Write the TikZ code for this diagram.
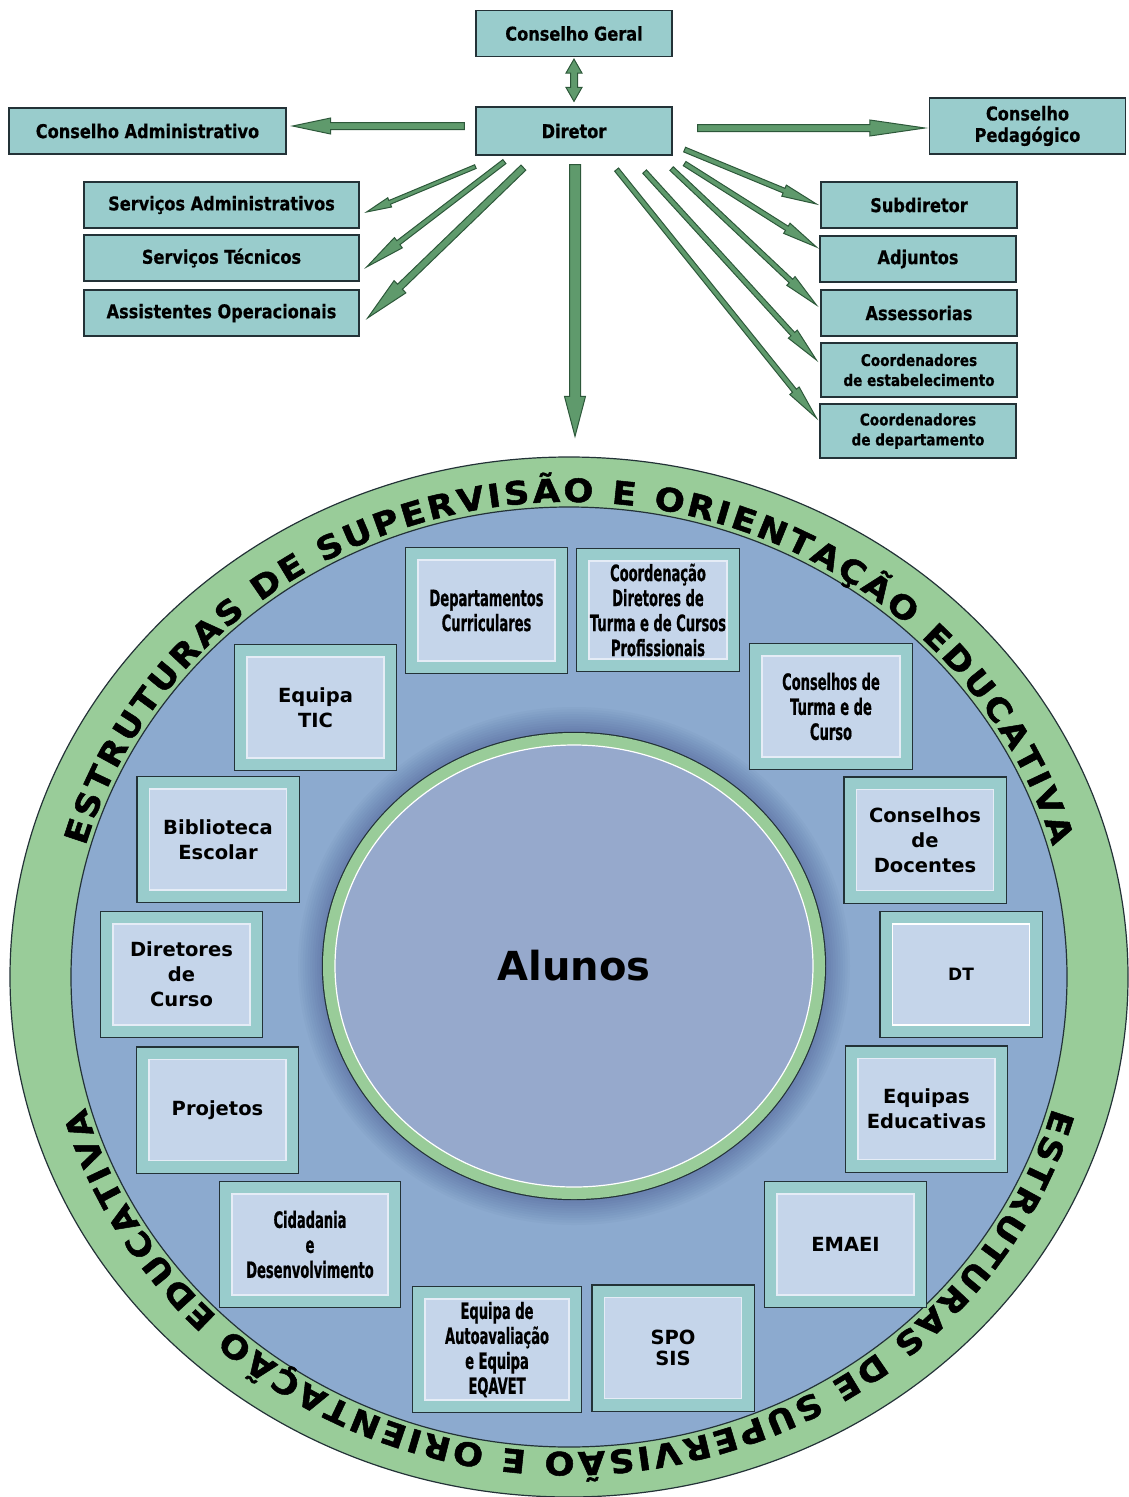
\documentclass[tikz,border=0pt]{standalone}
\usepackage{fontspec}
\setmainfont{DejaVu Sans}
\newfontfamily\narrowfont[FakeStretch=0.58, FakeBold=0.6]{DejaVu Sans}
\newfontfamily\semifont[FakeStretch=0.85, FakeBold=0.6]{DejaVu Sans}
\newfontfamily\widefont[FakeStretch=1.1, FakeBold=1.6]{DejaVu Sans}
\usepackage{xcolor}
\usepackage{tikz}
\usetikzlibrary{shapes.geometric,calc,decorations.text}

\definecolor{ringgreen}{RGB}{153,204,153}
\definecolor{fieldblue}{RGB}{140,170,207}
\definecolor{pupilblue}{RGB}{150,169,204}
\definecolor{boxteal}{RGB}{153,204,204}
\definecolor{boxlight}{RGB}{197,213,234}
\definecolor{flowfill}{RGB}{95,154,108}
\definecolor{flowedge}{RGB}{45,88,58}
\definecolor{edgedark}{RGB}{35,50,55}

\newcommand{\narrowtext}{\narrowfont\bfseries\fontsize{22.5}{25}\selectfont}
\newcommand{\widetext}{\bfseries\fontsize{19.5}{25}\selectfont}
\newcommand{\ringfont}{\widefont\bfseries\fontsize{32}{32}\selectfont}

% block arrow: tail, tip, shaft half width, head half width, head length
\newcommand{\flowarrow}[5]{%
  \coordinate (fa) at (#1);
  \coordinate (fb) at (#2);
  \coordinate (fh) at ($(fb)!#5!(fa)$);
  \filldraw[flow] ($(fa)!#3!90:(fb)$) -- ($(fh)!#3!90:(fb)$) -- ($(fh)!#4!90:(fb)$) -- (fb)
    -- ($(fh)!#4!-90:(fb)$) -- ($(fh)!#3!-90:(fb)$) -- ($(fa)!#3!-90:(fb)$) -- cycle;
}
% same with a head at both ends
\newcommand{\dblflow}[5]{%
  \coordinate (fa) at (#1);
  \coordinate (fb) at (#2);
  \coordinate (fh) at ($(fb)!#5!(fa)$);
  \coordinate (fg) at ($(fa)!#5!(fb)$);
  \filldraw[flow] (fa) -- ($(fg)!#4!-90:(fa)$) -- ($(fg)!#3!-90:(fa)$) -- ($(fh)!#3!90:(fb)$)
    -- ($(fh)!#4!90:(fb)$) -- (fb) -- ($(fh)!#4!-90:(fb)$) -- ($(fh)!#3!-90:(fb)$)
    -- ($(fg)!#3!90:(fa)$) -- ($(fg)!#4!90:(fa)$) -- cycle;
}

\tikzset{
  topbox/.style={draw=edgedark, line width=1.2pt, fill=boxteal, minimum width=196,
    minimum height=46, inner sep=0pt, align=center,
    font=\semifont\bfseries\fontsize{19}{21.5}\selectfont},
  smalltop/.style={topbox, minimum height=54, font=\semifont\bfseries\fontsize{16}{20}\selectfont},
  unit/.style={rectangle, minimum width=137, minimum height=101, inner sep=0pt, align=center,
    fill=boxlight, draw=white!55!boxlight, line width=1.2pt, font=\widetext,
    preaction={draw=edgedark, line width=26.4pt},
    preaction={draw=boxteal, line width=24pt}},
  narrowunit/.style={unit, font=\narrowtext},
  flow/.style={fill=flowfill, draw=flowedge, line width=1pt, line join=miter},
  ring/.style={ellipse, inner sep=0pt, draw=edgedark, line width=1.2pt}
}

\begin{document}
\begin{tikzpicture}[x=1pt, y=1pt]
    \useasboundingbox (0,0) rectangle (1129,-1497);

    % Direction
    \node[topbox] (geral) at (574,-33.5) {Conselho Geral};
    \node[topbox, minimum height=48] (dir) at (574,-131) {Diretor};
    \node[topbox, minimum width=277] (cadm) at (147.5,-131) {Conselho Administrativo};
    \node[topbox, minimum height=56] (cped) at (1027.5,-126) {Conselho\\Pedagógico};

    % Services (left)
    \node[topbox, minimum width=275] (sadm) at (221.5,-205) {Serviços Administrativos};
    \node[topbox, minimum width=275] (stec) at (221.5,-258) {Serviços Técnicos};
    \node[topbox, minimum width=275] (asop) at (221.5,-313) {Assistentes Operacionais};

    % Management (right)
    \node[topbox] (sub) at (919,-205) {Subdiretor};
    \node[topbox] (adj) at (918,-259) {Adjuntos};
    \node[topbox] (ases) at (919,-313) {Assessorias};
    \node[smalltop] (cest) at (919,-370) {Coordenadores\\de estabelecimento};
    \node[smalltop] (cdep) at (918,-431) {Coordenadores\\de departamento};

    % Rings
    \node[ring, minimum width=1118, minimum height=1040, fill=ringgreen] (ring) at (569,-977) {};
    \node[ring, minimum width=996, minimum height=940, fill=fieldblue] (field) at (569,-977) {};

    % Arrows
    \dblflow{[yshift=-2]geral.south}{[yshift=5]dir.north}{3.5pt}{8pt}{14pt}
    \flowarrow{[xshift=-11,yshift=5]dir.west}{[xshift=6,yshift=5]cadm.east}{3.5pt}{8pt}{38pt}
    \flowarrow{[xshift=25,yshift=3]dir.east}{[xshift=-4,yshift=-2]cped.west}{3.5pt}{8pt}{55pt}
    \flowarrow{[yshift=-11]dir.south west}{[xshift=7,yshift=-7]sadm.east}{2pt}{5pt}{25pt}
    \flowarrow{[xshift=29,yshift=-6]dir.south west}{[xshift=7,yshift=-9]stec.east}{2.5pt}{6.5pt}{40pt}
    \flowarrow{[xshift=48,yshift=-12]dir.south west}{[xshift=8,yshift=-5]asop.east}{3.5pt}{8.5pt}{45pt}
    \flowarrow{[xshift=1,yshift=-9]dir.south}{[xshift=6,yshift=20]ring.north}{5.5pt}{10.5pt}{40pt}
    \flowarrow{[xshift=12,yshift=6]dir.south east}{[xshift=-4,yshift=1]sub.west}{2.5pt}{6pt}{35pt}
    \flowarrow{[xshift=12,yshift=-8]dir.south east}{[xshift=-3,yshift=12]adj.west}{2.5pt}{6pt}{35pt}
    \flowarrow{[xshift=-1,yshift=-13]dir.south east}{[xshift=-4,yshift=8]ases.west}{2.5pt}{6pt}{35pt}
    \flowarrow{[xshift=-28,yshift=-16]dir.south east}{[xshift=-4,yshift=10]cest.west}{2.5pt}{6pt}{35pt}
    \flowarrow{[xshift=-56,yshift=-14]dir.south east}{[xshift=-3,yshift=13]cdep.west}{2.5pt}{6pt}{35pt}

    % Ring text
    \path[decorate, decoration={text along path, text align={fit to path},
        text={|\ringfont|ESTRUTURAS DE SUPERVISÃO E ORIENTAÇÃO EDUCATIVA}}]
        (ring.center) ++(164:503 and 475) arc[start angle=164, end angle=16, x radius=503, y radius=475];
    \path[decorate, decoration={text along path, text align={fit to path},
        text={|\ringfont|ESTRUTURAS DE SUPERVISÃO E ORIENTAÇÃO EDUCATIVA}}]
        (ring.center) ++(-16:503 and 475) arc[start angle=-16, end angle=-164, x radius=503, y radius=475];

    % Students
    \coordinate (mid) at (574,-966);
    \foreach \k in {1,...,10}
        \fill[black!70!blue, opacity=0.025] (mid) ellipse ({252+2.4*\k} and {235+2.4*\k});
    \node[ellipse, minimum width=478, minimum height=442, inner sep=0pt, fill=pupilblue,
        draw=white, line width=1.2pt, preaction={draw=edgedark, line width=26.4pt},
        preaction={draw=ringgreen, line width=24pt},
        font=\bfseries\fontsize{40}{40}\selectfont] (alunos) at (mid) {Alunos};

    % Structures
    \node[narrowunit] (dcur) at (486.5,-610.5) {Departamentos\\Curriculares};
    \node[narrowunit, minimum width=138, minimum height=98] (cdt) at (658,-610) {Coordenação\\Diretores de\\Turma e de Cursos\\Profissionais};
    \node[unit] (etic) at (315.5,-707.5) {Equipa\\TIC};
    \node[narrowunit, minimum width=138] (ctc) at (831,-706.5) {Conselhos de\\Turma e de\\Curso};
    \node[unit] (bib) at (218,-839.5) {Biblioteca\\Escolar};
    \node[unit] (cdoc) at (925,-840) {Conselhos\\de\\Docentes};
    \node[unit] (dcurso) at (181.5,-974.5) {Diretores\\de\\Curso};
    \node[unit, draw=white, font=\bfseries\fontsize{17}{20}\selectfont] (dt) at (961,-974.5) {DT};
    \node[unit] (proj) at (217.5,-1110) {Projetos};
    \node[unit] (eed) at (926.5,-1109) {Equipas\\Educativas};
    \node[narrowunit, minimum width=156] (cid) at (310,-1244.5) {Cidadania\\e\\Desenvolvimento};
    \node[unit] (emaei) at (845.5,-1244.5) {EMAEI};
    \node[narrowunit, minimum width=144] (eqa) at (497,-1349.5) {Equipa de\\Autoavaliação\\e Equipa\\EQAVET};
    \node[unit, font=\bfseries\fontsize{19.5}{21}\selectfont] (spo) at (673,-1348) {SPO\\SIS};
\end{tikzpicture}
\end{document}
